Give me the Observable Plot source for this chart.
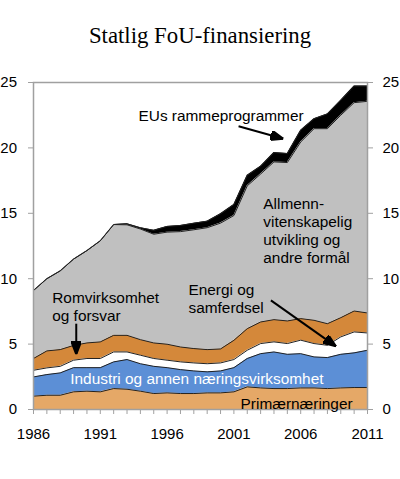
<!DOCTYPE html>
<html>
<head>
<meta charset="utf-8">
<script src="https://cdn.jsdelivr.net/npm/d3@7"></script>
<script src="https://cdn.jsdelivr.net/npm/@observablehq/plot@0.6"></script>
<style>
  body { margin: 0; background: #fff; }
  #title {
    height: 62px;
    box-sizing: border-box;
    padding-top: 23px;
    text-align: center;
    font-family: "Liberation Serif", "Times New Roman", serif;
    font-size: 22.8px;
    line-height: 1.15;
  }
</style>
</head>
<body>
<div id="title">Statlig FoU-finansiering</div>
<div id="chart"></div>
<script>
const years = [1986, 1987, 1988, 1989, 1990, 1991, 1992, 1993, 1994, 1995, 1996, 1997, 1998,
               1999, 2000, 2001, 2002, 2003, 2004, 2005, 2006, 2007, 2008, 2009, 2010, 2011];
const labelYears = [1986, 1991, 1996, 2001, 2006, 2011];
const yTicks = [0, 5, 10, 15, 20, 25];

// mrd. kr, stacked bottom to top
const primaer  = [1.02, 1.09, 1.09, 1.35, 1.40, 1.35, 1.60, 1.55, 1.40, 1.22, 1.27, 1.22, 1.22,
                  1.27, 1.27, 1.35, 1.73, 1.65, 1.60, 1.60, 1.65, 1.65, 1.60, 1.65, 1.68, 1.68];
const industri = [1.47, 1.58, 1.71, 1.85, 1.80, 1.85, 2.04, 2.27, 2.10, 2.08, 1.93, 1.83, 1.73,
                  1.61, 1.68, 1.85, 2.17, 2.62, 2.80, 2.62, 2.62, 2.37, 2.37, 2.57, 2.65, 2.85];
const energi   = [0.51, 0.51, 0.50, 0.57, 0.70, 0.70, 0.76, 0.58, 0.65, 0.60, 0.57, 0.59, 0.61,
                  0.62, 0.61, 0.62, 0.63, 0.77, 0.77, 0.82, 1.03, 1.02, 0.94, 1.33, 1.60, 1.32];
const rom      = [0.90, 1.30, 1.28, 1.13, 1.19, 1.27, 1.27, 1.27, 1.19, 1.19, 1.22, 1.14, 1.10,
                  1.08, 1.07, 1.47, 1.65, 1.65, 1.70, 1.73, 1.65, 1.78, 1.65, 1.47, 1.60, 1.53];
const allmenn  = [5.20, 5.52, 6.02, 6.60, 7.06, 7.73, 8.47, 8.45, 8.46, 8.31, 8.57, 8.82, 9.08,
                  9.32, 9.62, 9.54, 10.92, 11.31, 12.06, 12.11, 13.50, 14.65, 14.91, 15.48, 15.93, 16.18];
const eu       = [0, 0, 0, 0, 0, 0, 0, 0.08, 0.10, 0.30, 0.44, 0.47, 0.50,
                  0.50, 0.71, 0.84, 0.80, 0.60, 0.71, 0.69, 0.90, 0.76, 1.13, 1.14, 1.27, 1.17];

const series = ["Primærnæringer", "Industri og annen næringsvirksomhet", "Energi og samferdsel",
                "Romvirksomhet og forsvar", "Allmennvitenskapelig utvikling og andre formål",
                "EUs rammeprogrammer"];
const colors = ["#E5A867", "#5C8FD6", "#FFFFFF", "#D4883A", "#C0C0C0", "#000000"];
const values = [primaer, industri, energi, rom, allmenn, eu];

const rows = series.flatMap((s, i) => years.map((year, j) => ({series: s, year, value: values[i][j]})));

// annotations (data units)
const notes = [
  {text: "EUs rammeprogrammer", x: 1993.86, y: 22.47},
  {text: "Allmenn-\nvitenskapelig\nutvikling og\nandre formål", x: 2003.2, y: 13.68},
  {text: "Romvirksomhet\nog forsvar", x: 1987.4, y: 7.89},
  {text: "Energi og\nsamferdsel", x: 1997.6, y: 8.5},
  {text: "Primærnæringer", x: 2001.5, y: 0.5}
];
const whiteNotes = [{text: "Industri og annen næringsvirksomhet", x: 1988.75, y: 2.31}];
const arrows = [
  {x1: 2001.35, y1: 21.65, x2: 2004.7, y2: 20.7},
  {x1: 1989.2, y1: 6.56, x2: 1989.2, y2: 4.22},
  {x1: 2003.77, y1: 8.34, x2: 2008.64, y2: 4.83}
];

function headMarker(color) {
  const ns = "http://www.w3.org/2000/svg";
  const m = document.createElementNS(ns, "marker");
  m.setAttribute("viewBox", "-13 -5 13 10");
  m.setAttribute("markerWidth", 13);
  m.setAttribute("markerHeight", 10);
  m.setAttribute("markerUnits", "userSpaceOnUse");
  m.setAttribute("orient", "auto");
  const p = document.createElementNS(ns, "path");
  p.setAttribute("d", "M-13,-5L0,0L-13,5Z");
  p.setAttribute("fill", color);
  m.appendChild(p);
  return m;
}

const gray = "#a0a0a0";

const chart = Plot.plot({
  width: 400,
  height: 417,
  marginTop: 20,
  marginBottom: 70,
  marginLeft: 33,
  marginRight: 33,
  style: {fontFamily: "'Liberation Sans', Arial, sans-serif", fontSize: "15px", color: "black", background: "white"},
  x: {domain: [1986, 2011]},
  y: {domain: [0, 25]},
  color: {domain: series, range: colors},
  marks: [
    Plot.areaY(rows, {x: "year", y: "value", z: "series", fill: "series"}),
    Plot.lineY(rows, Plot.stackY2({x: "year", y: "value", z: "series", stroke: "#222", strokeWidth: 1})),
    Plot.frame({stroke: gray, strokeWidth: 1.5}),
    Plot.axisY({anchor: "left", ticks: yTicks, tickSize: 5, tickPadding: 11.5, stroke: gray, fill: "black", label: null}),
    Plot.axisY({anchor: "right", ticks: yTicks, tickSize: 5, tickPadding: 10, stroke: gray, fill: "black", label: null}),
    Plot.axisX({ticks: years, tickFormat: (d) => labelYears.includes(d) ? String(d) : "",
                tickSize: 5, tickPadding: 14, stroke: gray, fill: "black", label: null}),
    Plot.link(arrows, {x1: "x1", y1: "y1", x2: "x2", y2: "y2", stroke: "black", strokeWidth: 2, markerEnd: headMarker}),
    Plot.text(notes, {x: "x", y: "y", text: "text", textAnchor: "start", lineAnchor: "middle",
                      lineHeight: 1.17, fontSize: 15.4, fill: "black"}),
    Plot.text(whiteNotes, {x: "x", y: "y", text: "text", textAnchor: "start", lineAnchor: "middle",
                           fontSize: 15.4, fill: "white"})
  ]
});

document.getElementById("chart").appendChild(chart);
</script>
</body>
</html>
